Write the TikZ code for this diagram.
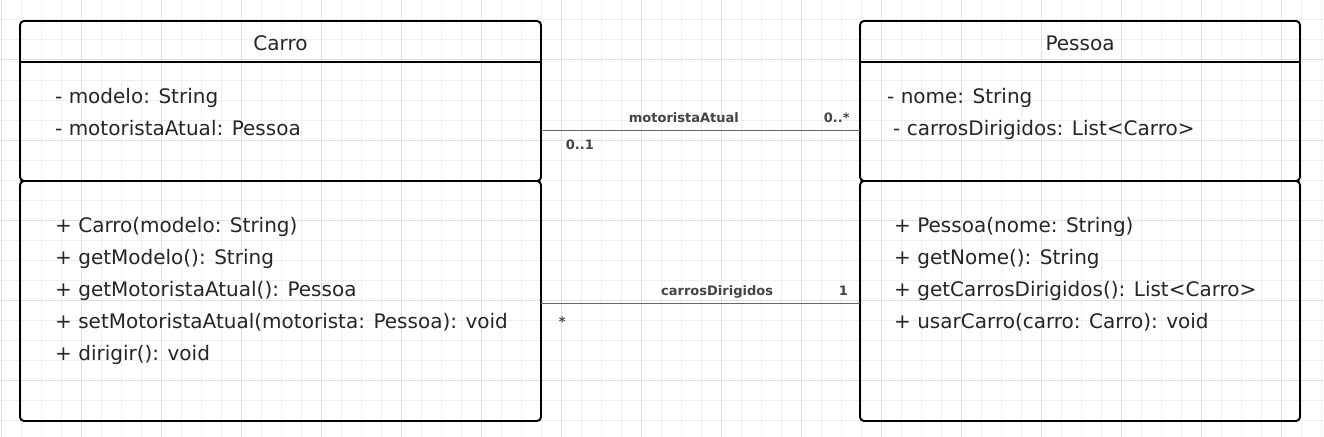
\documentclass[tikz,border=0pt]{standalone}
\usepackage{fontspec}
\setmainfont{DejaVu Sans}
\usepackage{tikz}
\usetikzlibrary{positioning}

\definecolor{gridminor}{HTML}{EFEFEF}
\definecolor{gridmajor}{HTML}{E0E0E0}
\definecolor{linkgray}{HTML}{666666}
\definecolor{labelgray}{HTML}{444444}

\begin{document}
\begin{tikzpicture}[
  x=1pt, y=-1pt,
  compart/.style={draw=black, line width=1.9pt, rounded corners=4pt, inner sep=0pt, outer sep=0pt, anchor=north west},
  sepline/.style={draw=black, line width=1.9pt},
  title/.style={inner sep=0pt, anchor=base, font=\fontsize{20}{24}\selectfont, text=black!85},
  member/.style={inner sep=0pt, anchor=base west, font=\fontsize{20}{24}\selectfont, text=black!85},
  assoc/.style={draw=linkgray, line width=1.5pt},
  mult/.style={inner sep=0pt, anchor=base, font=\fontsize{13}{15}\selectfont\bfseries, text=labelgray}
]

% Canvas with grid
\useasboundingbox (0,0) rectangle (1324,436);
\fill[white] (0,0) rectangle (1324,436);
\begin{scope}
  \clip (0,0) rectangle (1324,436);
  \draw[gridminor, line width=1pt, step=20pt, shift={(1,0)}] (-21,460) grid (1340,-20);
  \draw[gridmajor, line width=1pt, step=80pt, shift={(1,60)}] (-81,460) grid (1400,-140);
\end{scope}

% Carro class
\node[compart, minimum width=521pt, minimum height=160pt] (carroTop) at (20,21) {};
\node[compart, minimum width=521pt, minimum height=240pt] (carroOps) at (20,181) {};
\draw[sepline] ([yshift=-41pt]carroTop.north west) -- ([yshift=-41pt]carroTop.north east);
\node[title] (carroName) at ([yshift=-29.7pt]carroTop.north) {Carro};

\node[member] (carroA1) at (55,103) {- modelo: String};
\node[member] (carroA2) at (55,135) {- motoristaAtual: Pessoa};

\node[member] (carroM1) at (55,232) {+ Carro(modelo: String)};
\node[member] (carroM2) at (55,264) {+ getModelo(): String};
\node[member] (carroM3) at (55,296) {+ getMotoristaAtual(): Pessoa};
\node[member] (carroM4) at (55,328) {+ setMotoristaAtual(motorista: Pessoa): void};
\node[member] (carroM5) at (55,360) {+ dirigir(): void};

% Pessoa class
\node[compart, minimum width=440pt, minimum height=160pt] (pessoaTop) at (860,21) {};
\node[compart, minimum width=440pt, minimum height=240pt] (pessoaOps) at (860,181) {};
\draw[sepline] ([yshift=-41pt]pessoaTop.north west) -- ([yshift=-41pt]pessoaTop.north east);
\node[title] (pessoaName) at ([yshift=-29.7pt]pessoaTop.north) {Pessoa};

\node[member] (pessoaA1) at (887,103) {- nome: String};
\node[member] (pessoaA2) at (893,135) {- carrosDirigidos: List<Carro>};

\node[member] (pessoaM1) at (894,232) {+ Pessoa(nome: String)};
\node[member] (pessoaM2) at (894,264) {+ getNome(): String};
\node[member] (pessoaM3) at (894,296) {+ getCarrosDirigidos(): List<Carro>};
\node[member] (pessoaM4) at (894,328) {+ usarCarro(carro: Carro): void};

% Associations
\draw[assoc] ([yshift=-29.5pt]carroTop.east) -- ([yshift=-29.5pt]pessoaTop.west)
  node[mult, pos=0.448, yshift=8.2pt] (lblMotorista) {motoristaAtual}
  node[mult, pos=0.927, yshift=8.2pt] (multPessoa) {0..*}
  node[mult, pos=0.122, yshift=-18.8pt] (multCarro) {0..1};

\draw[assoc] ([yshift=-2.7pt]carroOps.east) -- ([yshift=-2.7pt]pessoaOps.west)
  node[mult, pos=0.552, yshift=8pt] (lblCarros) {carrosDirigidos}
  node[mult, pos=0.948, yshift=8pt] (multUm) {1}
  node[mult, pos=0.067, yshift=-23pt] (multMuitos) {*};

\end{tikzpicture}
\end{document}
